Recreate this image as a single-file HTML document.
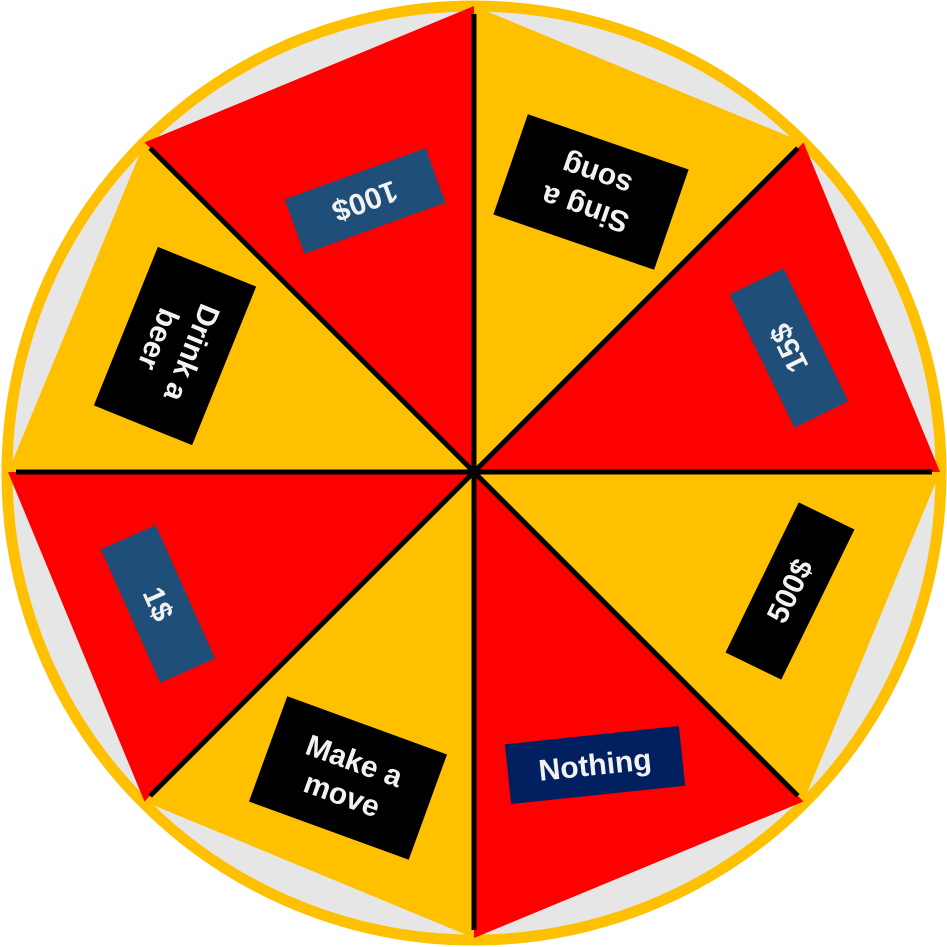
<!DOCTYPE html>
<html><head><meta charset="utf-8"><style>
html,body{margin:0;padding:0;background:#fff;}
svg{display:block;}
text{font-family:"Liberation Sans",sans-serif;font-weight:bold;fill:#F2F2F2;}
</style></head><body>
<svg id="wheel" width="947" height="947" viewBox="0 0 947 947" xmlns="http://www.w3.org/2000/svg">
<circle cx="474" cy="473" r="467" fill="#E6E6E6" stroke="#FFC000" stroke-width="11"/>
<g id="wedges"></g>
<g id="dividers"></g>
<g id="labels"></g>
</svg>
<script>
const segmentLabels = ["Sing a song","15$","500$","Nothing","Make a move","1$","Drink a beer","100$"];
const segmentWeights = [1,1,1,1,1,1,1,1];
const segmentColors = ["#FFC000","#FF0000","#FFC000","#FF0000","#FFC000","#FF0000","#FFC000","#FF0000"];
const labelBoxColors = ["#000000","#1F4E79","#000000","#002060","#000000","#1F4E79","#000000","#1F4E79"];

// layout (not data): label placement relative to wheel
const LAYOUT = {
  "Sing a song":{x:591,y:192,rot:-161,w:170,h:106},
  "15$":{x:789,y:348,rot:-116,w:148,h:60},
  "500$":{x:790,y:591,rot:-64,w:167,h:62},
  "Nothing":{x:595,y:765,rot:-6,w:175,h:60},
  "Make a move":{x:348,y:778,rot:20,w:170,h:112},
  "1$":{x:158,y:604,rot:66,w:146,h:60},
  "Drink a beer":{x:175,y:346,rot:112,w:171,h:106},
  "100$":{x:365,y:201,rot:160,w:150,h:58}
};

const NS="http://www.w3.org/2000/svg";
const cx=474, cy=472, R=466;
const total=segmentWeights.reduce((a,b)=>a+b,0);
function ang(cum){return -90+cum/total*360;}
function pt(a,r){const t=a*Math.PI/180;return [cx+r*Math.cos(t),cy+r*Math.sin(t)];}
const wedges=document.getElementById('wedges');
const dividers=document.getElementById('dividers');
const labels=document.getElementById('labels');
let cum=0;
segmentWeights.forEach((w,i)=>{
  const a0=ang(cum), a1=ang(cum+w);
  const p0=pt(a0,R), p1=pt(a1,R);
  const poly=document.createElementNS(NS,'polygon');
  poly.setAttribute('points',`${cx},${cy} ${p0[0]},${p0[1]} ${p1[0]},${p1[1]}`);
  poly.setAttribute('fill',segmentColors[i]);
  
  
  wedges.appendChild(poly);
  const d=pt(a0,R-8);
  const ln=document.createElementNS(NS,'line');
  ln.setAttribute('x1',cx);ln.setAttribute('y1',cy);ln.setAttribute('x2',d[0]);ln.setAttribute('y2',d[1]);
  ln.setAttribute('stroke','#000');ln.setAttribute('stroke-width','5');
  
  
  dividers.appendChild(ln);
  const mid=(a0+a1)/2;
  const L=LAYOUT[segmentLabels[i]];
  const dp=pt(mid,322);
  const lx=L?L.x:dp[0], ly=L?L.y:dp[1];
  const rot=L?L.rot:mid+110;
  const multi=segmentLabels[i].split(' ').length>1 && segmentLabels[i]!=="Nothing";
  const bw=L?L.w:(multi?170:150), bh=L?L.h:(multi?106:60);
  const g=document.createElementNS(NS,'g');
  g.setAttribute('transform',`translate(${lx},${ly}) rotate(${rot})`);
  
  
  const rect=document.createElementNS(NS,'rect');
  rect.setAttribute('x',-bw/2);rect.setAttribute('y',-bh/2);rect.setAttribute('width',bw);rect.setAttribute('height',bh);
  rect.setAttribute('fill',labelBoxColors[i]);
  
  
  g.appendChild(rect);
  let lines=[segmentLabels[i]];
  if(multi){const ws=segmentLabels[i].split(' ');lines=[ws.slice(0,ws.length-1).join(' '),ws[ws.length-1]];}
  lines.forEach((t,k)=>{
    const tx=document.createElementNS(NS,'text');
    tx.setAttribute('x',0);
    tx.setAttribute('y',(k-(lines.length-1)/2)*36+10);
    tx.setAttribute('text-anchor','middle');
    tx.setAttribute('font-size','30');
    
    
    tx.textContent=t;
    g.appendChild(tx);
  });
  labels.appendChild(g);
  cum+=w;
});
</script>
</body></html>
